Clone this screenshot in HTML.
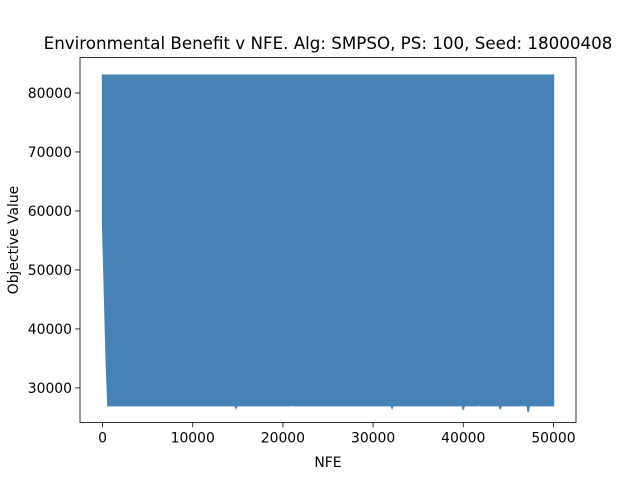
<!DOCTYPE html>
<html><head><meta charset="utf-8"><style>
body{margin:0;background:#fff}
svg{font-family:"DejaVu Sans","Liberation Sans",sans-serif}
</style></head><body>
<svg id="chart" width="640" height="480" xmlns="http://www.w3.org/2000/svg"></svg>
<script>
const nfe   = [0, 150, 300, 450, 600, 14700, 14800, 14900, 21000, 21100, 21200, 32000, 32100, 32200, 39900, 40000, 40100, 41600, 41700, 41800, 44000, 44100, 44200, 47100, 47200, 47300, 50000];
const upper = [83000, 83000, 83000, 83000, 83000, 83000, 83000, 83000, 83000, 83000, 83000, 83000, 83000, 83000, 83000, 83000, 83000, 83000, 83000, 83000, 83000, 83000, 83000, 83000, 83000, 83000, 83000];
const lower = [58000, 50000, 41000, 33000, 27000, 27000, 26600, 27000, 27000, 27400, 27000, 27000, 26600, 27000, 27000, 26300, 27000, 27000, 29300, 27000, 27000, 26400, 27000, 27000, 25900, 27000, 27000];
const xTicks = [0, 10000, 20000, 30000, 40000, 50000];
const yTicks = [30000, 40000, 50000, 60000, 70000, 80000];
const L=80,R=576,T=57.6,B=422.4, xmin=-2500,xmax=52500,ymin=24150,ymax=86000;
const X=v=>L+(v-xmin)/(xmax-xmin)*(R-L);
const Y=v=>B-(v-ymin)/(ymax-ymin)*(B-T);
const svg=document.getElementById('chart');
const NS='http://www.w3.org/2000/svg';
function mk(t,a){const e=document.createElementNS(NS,t);for(const k in a)e.setAttribute(k,a[k]);svg.appendChild(e);return e;}
let pts=[];
for(let i=0;i<nfe.length;i++)pts.push(X(nfe[i])+','+Y(upper[i]));
for(let i=nfe.length-1;i>=0;i--)pts.push(X(nfe[i])+','+Y(lower[i]));
const poly=mk('polygon',{points:pts.join(' '),fill:'#4682b4',stroke:'#4682b4','stroke-width':1.5});


const frame=mk('rect',{x:L,y:T,width:R-L,height:B-T,fill:'none',stroke:'#000','stroke-width':0.8});


xTicks.forEach(v=>{
  mk('line',{x1:X(v),x2:X(v),y1:B,y2:B+4.9,stroke:'#000','stroke-width':0.8});
  const t=mk('text',{x:X(v),y:B+20,'font-size':13.9,'text-anchor':'middle'});t.textContent=v;
  
  
});
yTicks.forEach(v=>{
  mk('line',{x1:L-4.9,x2:L,y1:Y(v),y2:Y(v),stroke:'#000','stroke-width':0.8});
  const t=mk('text',{x:L-8,y:Y(v)+5,'font-size':13.9,'text-anchor':'end'});t.textContent=v;
  
  
});
const xt=mk('text',{x:(L+R)/2,y:467,'font-size':13.9,'text-anchor':'middle'});xt.textContent='NFE';


const yt=mk('text',{x:18,y:(T+B)/2,'font-size':13.9,'text-anchor':'middle',transform:'rotate(-90 18 '+((T+B)/2)+')'});yt.textContent='Objective Value';


const ti=mk('text',{x:(L+R)/2,y:49,'font-size':16.7,'text-anchor':'middle'});ti.textContent='Environmental Benefit v NFE. Alg: SMPSO, PS: 100, Seed: 18000408';


</script>
</body></html>
